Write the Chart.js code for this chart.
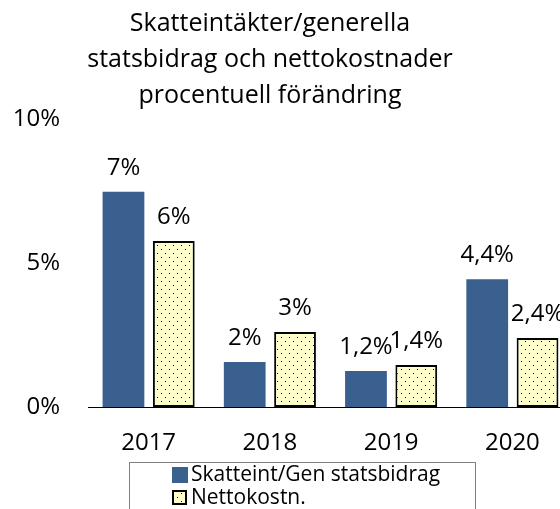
<!DOCTYPE html>
<html>
<head>
<meta charset="utf-8">
<script src="https://cdn.jsdelivr.net/npm/chart.js@4/dist/chart.umd.min.js"></script>
<style>
  html, body { margin: 0; padding: 0; background: #fff; overflow: hidden; }
  #wrap { width: 575px; height: 509px; position: relative; }
</style>
</head>
<body>
<div id="wrap"><canvas id="chart"></canvas></div>
<script>
// data
var years = ['2017', '2018', '2019', '2020'];
var skatt = [7.47, 1.56, 1.25, 4.44];
var netto = [5.76, 2.6, 1.46, 2.4];
var skattLabels = ['7%', '2%', '1,2%', '4,4%'];
var nettoLabels = ['6%', '3%', '1,4%', '2,4%'];
var yTicks = [0, 5, 10];
var titleLines = ['Skatteintäkter/generella', 'statsbidrag och nettokostnader', 'procentuell förändring'];

var FONT = "'Open Sans', sans-serif";
var blue = '#3a6090';

// dotted yellow fill like the excel pattern
function dots() {
    var c = document.createElement('canvas');
    c.width = 8; c.height = 8;
    var x = c.getContext('2d');
    x.fillStyle = '#ffffcc';
    x.fillRect(0, 0, 8, 8);
    x.fillStyle = '#000';
    x.fillRect(1, 1, 1, 1);
    x.fillRect(5, 5, 1, 1);
    return x.createPattern(c, 'repeat');
}
var pat = dots();

var extras = {
    id: 'extras',
    afterDraw: function(chart){
        var ctx = chart.ctx;
        ctx.save();
        ctx.fillStyle = '#000';
        ctx.textAlign = 'center';
        ctx.textBaseline = 'middle';

        // title
        ctx.font = '25px ' + FONT;
        for (var i = 0; i < titleLines.length; i++){
            ctx.fillText(titleLines[i], 270, 24 + i * 36);
        }

        // value labels above bars
        var lbls = [skattLabels, nettoLabels];
        ctx.font = '24px ' + FONT;
        chart.data.datasets.forEach(function(ds, d){
            chart.getDatasetMeta(d).data.forEach(function(el, j){
                ctx.fillText(lbls[d][j], el.x, el.y - 24);
            });
        });

        // legend box
        ctx.strokeStyle = '#808080';
        ctx.lineWidth = 1;
        ctx.strokeRect(129.5, 462.5, 346, 60);
        ctx.textAlign = 'left';
        ctx.font = '21px ' + FONT;
        ctx.fillStyle = blue;
        ctx.fillRect(172, 467, 16, 16);
        ctx.fillStyle = '#000';
        ctx.fillText(chart.data.datasets[0].label, 191, 475);
        ctx.fillStyle = pat;
        ctx.fillRect(173, 491, 13, 13);
        ctx.strokeStyle = '#000';
        ctx.lineWidth = 2;
        ctx.strokeRect(173, 491, 13, 13);
        ctx.fillStyle = '#000';
        ctx.fillText(chart.data.datasets[1].label, 191, 498);
        ctx.restore();
    }
};

new Chart(document.getElementById('chart'), {
    type: 'bar',
    data: {
        labels: years,
        datasets: [{
            label: 'Skatteint/Gen statsbidrag',
            data: skatt,
            backgroundColor: blue,
            borderWidth: 0,
            categoryPercentage: 0.83,
            barPercentage: 0.83
        }, {
            label: 'Nettokostn.',
            data: netto,
            backgroundColor: pat,
            borderColor: '#000',
            borderWidth: 2,
            borderSkipped: false,
            categoryPercentage: 0.83,
            barPercentage: 0.83
        }]
    },
    options: {
        responsive: true,
        maintainAspectRatio: false,
        animation: false,
        layout: { padding: { left: 12, right: 2, top: 119, bottom: 53 } },
        plugins: {
            legend: { display: false },
            title: { display: false },
            tooltip: { enabled: false }
        },
        scales: {
            x: {
                grid: { display: false, drawTicks: false },
                border: { display: true, color: '#000', width: 1 },
                ticks: { color: '#000', font: { family: FONT, size: 24 }, padding: 22 },
                afterFit: function(axis){ axis.height = 49; }
            },
            y: {
                min: 0,
                max: 10,
                afterBuildTicks: function(axis){
                    axis.ticks = yTicks.map(function(v){ return { value: v }; });
                },
                grid: { display: false, drawTicks: false },
                border: { display: false },
                ticks: {
                    color: '#000',
                    font: { family: FONT, size: 24 },
                    padding: 28,
                    callback: function(v){ return v + '%'; }
                },
                afterFit: function(axis){ axis.width = 76; }
            }
        }
    },
    plugins: [extras]
});
</script>
</body>
</html>
